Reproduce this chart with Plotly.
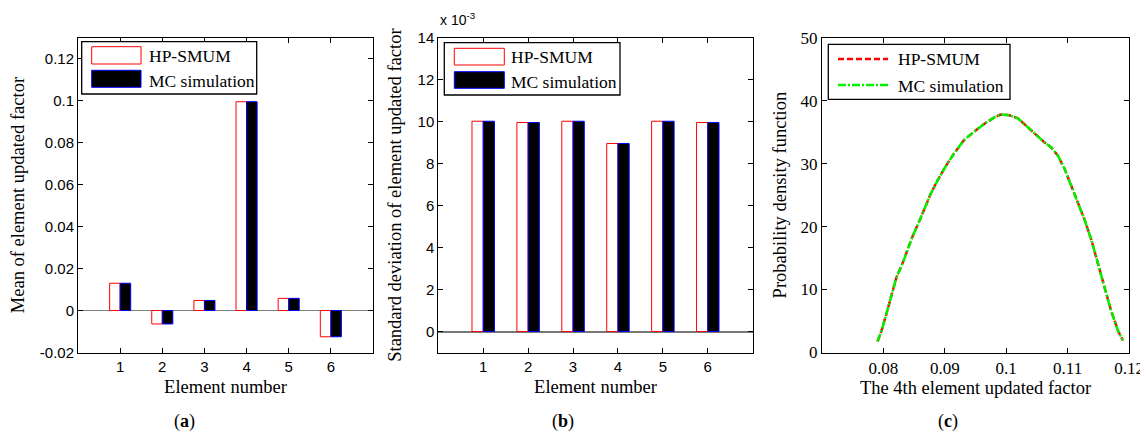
import plotly.graph_objects as go

# ---------------- data ----------------
elements = [1, 2, 3, 4, 5, 6]
mean_hp = [0.0130, -0.0064, 0.0048, 0.0995, 0.0058, -0.0125]
mean_mc = [0.0130, -0.0064, 0.0048, 0.0995, 0.0058, -0.0125]
std_hp = [10.02, 9.96, 10.02, 8.96, 10.02, 9.96]   # x 1e-3
std_mc = [10.02, 9.96, 10.02, 8.96, 10.02, 9.96]   # x 1e-3

pdf_x = [0.07905, 0.07977, 0.08085, 0.08211, 0.0833, 0.08468, 0.0860, 0.0877,
         0.0888, 0.0901, 0.0915, 0.0931, 0.0948, 0.0964, 0.0980, 0.0991,
         0.1005, 0.1019, 0.1035, 0.1049, 0.1062, 0.1073, 0.1084, 0.1095,
         0.1106, 0.1117, 0.1128, 0.1139, 0.1150, 0.1160, 0.1171, 0.1182, 0.1190]
pdf_hp = [1.75, 3.7, 7.4, 11.9, 14.6, 18.3, 21.2, 25.2, 27.3, 29.5, 31.6, 33.7,
          35.1, 36.3, 37.3, 37.8, 37.7, 37.2, 35.8, 34.5, 33.4, 32.6, 31.3, 29.2,
          26.5, 23.6, 21.0, 17.8, 14.1, 10.4, 6.6, 3.5, 1.9]
pdf_mc = [1.75, 3.7, 7.4, 11.9, 14.6, 18.3, 21.2, 25.2, 27.3, 29.5, 31.6, 33.7,
          35.1, 36.3, 37.3, 37.8, 37.7, 37.2, 35.8, 34.5, 33.4, 32.6, 31.3, 29.2,
          26.5, 23.6, 21.0, 17.8, 14.1, 10.4, 6.6, 3.5, 1.9]

mean_ticks = [-0.02, 0, 0.02, 0.04, 0.06, 0.08, 0.1, 0.12]
mean_ticktext = ["-0.02", "0", "0.02", "0.04", "0.06", "0.08", "0.1", "0.12"]
std_ticks = [0, 2, 4, 6, 8, 10, 12, 14]
pdf_yticks = [0, 10, 20, 30, 40, 50]
pdf_xticks = [0.08, 0.09, 0.10, 0.11, 0.12]
pdf_xticktext = ["0.08", "0.09", "0.1", "0.11", "0.12"]

names = ["HP-SMUM", "MC simulation"]

# ---------------- figure ----------------
# The page body has an 8px default margin, so the figure is drawn 8px
# right/down; all pixel positions below are given in window pixels.
OFF = 8
W, H = 1148 - OFF, 437 - OFF
SERIF = "Liberation Serif, Times New Roman, serif"
SANS = "Liberation Sans, Arial, sans-serif"

HP_BAR = dict(color="white", line=dict(color="red", width=1))
MC_BAR = dict(color="black", line=dict(color="blue", width=1))
HP_LINE = dict(color="red", width=2.5, dash="6px,3px")
MC_LINE = dict(color="#00f000", width=2.5, dash="8px,2px,2px,2px")

fig = go.Figure()

# (a)
fig.add_trace(go.Bar(x=elements, y=mean_hp, name=names[0], xaxis="x", yaxis="y", marker=HP_BAR))
fig.add_trace(go.Bar(x=elements, y=mean_mc, name=names[1], xaxis="x", yaxis="y", marker=MC_BAR))
# (b)
fig.add_trace(go.Bar(x=elements, y=std_hp, name=names[0], xaxis="x2", yaxis="y2", marker=HP_BAR))
fig.add_trace(go.Bar(x=elements, y=std_mc, name=names[1], xaxis="x2", yaxis="y2", marker=MC_BAR))
# (c)
fig.add_trace(go.Scatter(x=pdf_x, y=pdf_hp, name=names[0], mode="lines", xaxis="x3", yaxis="y3",
                         line=HP_LINE))
fig.add_trace(go.Scatter(x=pdf_x, y=pdf_mc, name=names[1], mode="lines", xaxis="x3", yaxis="y3",
                         line=MC_LINE))


def px(v):
    return (v - OFF) / W


def py(v):
    return 1 - (v - OFF) / H


ydom = [py(352.5), py(37.7)]

common = dict(showline=True, linecolor="black", linewidth=1, mirror="allticks",
              ticks="inside", ticklen=5, tickcolor="black", showgrid=False,
              automargin=False)

ax_title_font = dict(family=SERIF, size=18.5, color="black")

# ---------- custom legends (positions in pixels) ----------
shapes = []
annotations = []


def legend_box(x0, y0, x1, y1):
    shapes.append(dict(type="rect", xref="paper", yref="paper", x0=px(x0), x1=px(x1),
                       y0=py(y1), y1=py(y0), line=dict(color="black", width=1.3),
                       fillcolor="white", layer="above"))


def legend_text(text, x, y):
    annotations.append(dict(text=text, xref="paper", yref="paper", x=px(x), y=py(y),
                            xanchor="left", yanchor="middle", showarrow=False,
                            font=dict(family=SERIF, size=17.5, color="black")))


def legend_rect(x0, y0, x1, y1, style):
    shapes.append(dict(type="rect", xref="paper", yref="paper", x0=px(x0), x1=px(x1),
                       y0=py(y1), y1=py(y0), line=dict(color=style["line"]["color"], width=1),
                       fillcolor=style["color"], layer="above"))


def legend_line(x0, x1, y, style):
    shapes.append(dict(type="line", xref="paper", yref="paper", x0=px(x0), x1=px(x1),
                       y0=py(y), y1=py(y), line=dict(color=style["color"], width=style["width"],
                                                     dash=style["dash"]), layer="above"))


# (a)
legend_box(81.7, 41.7, 256.7, 94)
legend_rect(91.7, 46.7, 141, 64, HP_BAR)
legend_rect(91.7, 70.3, 141, 87.3, MC_BAR)
legend_text(names[0], 146.5, 56)
legend_text(names[1], 146.5, 80.5)
# (b)
legend_box(444.3, 42.7, 620, 95)
legend_rect(454.3, 48.3, 504.3, 65, HP_BAR)
legend_rect(454.3, 71.7, 504.3, 88.3, MC_BAR)
legend_text(names[0], 509, 57.3)
legend_text(names[1], 509, 81.7)
# (c)
legend_box(828.3, 44.3, 1010, 99.3)
legend_line(838, 888, 59, HP_LINE)
legend_line(838, 888, 85, MC_LINE)
legend_text(names[0], 895.5, 59.5)
legend_text(names[1], 895.5, 85.5)

annotations += [
    dict(text="x 10<sup>-3</sup>", xref="paper", yref="paper", x=px(438), y=py(30),
         xanchor="left", yanchor="bottom", showarrow=False,
         font=dict(family=SANS, size=14, color="black")),
    dict(text="(<b>a</b>)", xref="paper", yref="paper", x=px(184), y=py(421),
         xanchor="center", yanchor="middle", showarrow=False,
         font=dict(family=SERIF, size=18, color="black")),
    dict(text="(<b>b</b>)", xref="paper", yref="paper", x=px(563), y=py(421),
         xanchor="center", yanchor="middle", showarrow=False,
         font=dict(family=SERIF, size=18, color="black")),
    dict(text="(<b>c</b>)", xref="paper", yref="paper", x=px(948), y=py(421),
         xanchor="center", yanchor="middle", showarrow=False,
         font=dict(family=SERIF, size=18, color="black")),
]

fig.update_layout(
    width=W, height=H, margin=dict(l=0, r=0, t=0, b=0),
    paper_bgcolor="white", plot_bgcolor="white",
    showlegend=False,
    barmode="group", bargap=0.5, bargroupgap=0.0,
    xaxis=dict(domain=[px(78), px(373)], range=[0, 7], tickvals=elements,
               tickfont=dict(family=SANS, size=15, color="black"),
               title=dict(text="Element number", font=ax_title_font, standoff=6),
               anchor="y", zeroline=False, **common),
    yaxis=dict(domain=ydom, range=[-0.02, 0.13], tickvals=mean_ticks, ticktext=mean_ticktext,
               tickfont=dict(family=SANS, size=15, color="black"),
               title=dict(text="Mean of element updated factor", font=ax_title_font, standoff=17),
               anchor="x", zeroline=True, zerolinecolor="#808080", zerolinewidth=1, **common),
    xaxis2=dict(domain=[px(438.3), px(752.7)], range=[0, 7], tickvals=elements,
                tickfont=dict(family=SANS, size=15, color="black"),
                title=dict(text="Element number", font=ax_title_font, standoff=6),
                anchor="y2", zeroline=False, **common),
    yaxis2=dict(domain=ydom, range=[-1, 14], tickvals=std_ticks,
                tickfont=dict(family=SANS, size=15, color="black"),
                title=dict(text="Standard deviation of element updated factor", font=ax_title_font, standoff=11),
                anchor="x2", zeroline=True, zerolinecolor="#777777", zerolinewidth=1.5, **common),
    xaxis3=dict(domain=[px(822), px(1129)], range=[0.07, 0.12], tickvals=pdf_xticks, ticktext=pdf_xticktext,
                tickfont=dict(family=SERIF, size=17, color="black"),
                title=dict(text="The 4th element updated factor", font=ax_title_font, standoff=4),
                anchor="y3", zeroline=False, **common),
    yaxis3=dict(domain=ydom, range=[0, 50], tickvals=pdf_yticks,
                tickfont=dict(family=SERIF, size=17, color="black"),
                title=dict(text="Probability density function", font=ax_title_font, standoff=9),
                anchor="x3", zeroline=False, **common),
    shapes=shapes,
    annotations=annotations,
)

fig.write_html("out.html")
